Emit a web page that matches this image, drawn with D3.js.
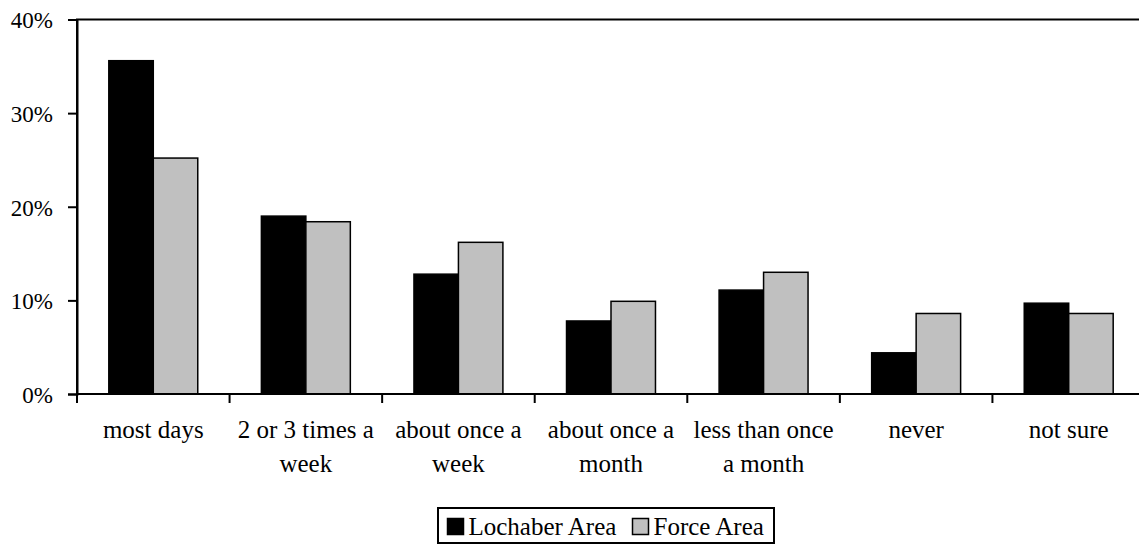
<!DOCTYPE html>
<html>
<head>
<meta charset="utf-8">
<script src="https://cdn.jsdelivr.net/npm/d3@7"></script>
<style>
  html, body { margin: 0; padding: 0; background: #fff; }
  svg { display: block; }
</style>
</head>
<body>
<svg id="chart" width="1139" height="544"></svg>
<script>
const categories = ["most days", "2 or 3 times a week", "about once a week", "about once a month", "less than once a month", "never", "not sure"];
const tickLabelLines = [["most days"], ["2 or 3 times a", "week"], ["about once a", "week"], ["about once a", "month"], ["less than once", "a month"], ["never"], ["not sure"]];
const seriesNames = ["Lochaber Area", "Force Area"];
const lochaber = [35.6, 19.0, 12.8, 7.8, 11.1, 4.4, 9.7];
const force = [25.2, 18.4, 16.2, 9.9, 13.0, 8.6, 8.6];
const yTicks = [0, 10, 20, 30, 40];
const colors = ["#000000", "#c0c0c0"];
const FONT = "Liberation Serif";

const svg = d3.select("#chart");
const plotLeft = 77, plotRight = 1145, plotTop = 19.5, plotBottom = 394;

const xCat = d3.scaleBand().domain(categories).range([plotLeft, plotRight]).padding(0);
const inset = xCat.bandwidth() * 0.2085;
const xSer = d3.scaleBand().domain(seriesNames).range([inset, xCat.bandwidth() - inset]).padding(0);
const y = d3.scaleLinear().domain([0, 40]).range([plotBottom, plotTop]);

const data = categories.map((c, i) => ({ c, vals: [lochaber[i], force[i]] }));

// plot border
svg.append("rect")
  .attr("x", plotLeft).attr("y", plotTop)
  .attr("width", plotRight - plotLeft).attr("height", plotBottom - plotTop)
  .attr("fill", "none").attr("stroke", "#000").attr("stroke-width", 2);

// bars
const g = svg.append("g");
data.forEach(d => {
  d.vals.forEach((v, j) => {
    g.append("rect")
      .attr("x", xCat(d.c) + xSer(seriesNames[j]))
      .attr("y", y(v))
      .attr("width", xSer.bandwidth())
      .attr("height", y(0) - y(v))
      .attr("fill", colors[j])
      .attr("stroke", "#000")
      .attr("stroke-width", 1.5);
  });
});

// y axis
const yAxis = d3.axisLeft(y).tickValues(yTicks).tickSize(9).tickFormat(d => d + "%");
const ya = svg.append("g").attr("transform", `translate(${plotLeft},0)`).call(yAxis)
  .attr("font-family", FONT).attr("font-size", 23);
ya.select(".domain").attr("stroke-width", 2);
ya.selectAll(".tick line").attr("stroke-width", 2);
ya.selectAll(".tick text")
  .attr("x", -24).attr("dy", "0.36em")
  .attr("font-family", FONT).attr("font-size", 23).attr("fill", "#000");

// x axis: line and category boundary ticks
svg.append("line").attr("x1", plotLeft).attr("x2", plotRight).attr("y1", plotBottom).attr("y2", plotBottom)
  .attr("stroke", "#000").attr("stroke-width", 2);
const boundaries = categories.map(c => xCat(c)).concat([xCat(categories[categories.length - 1]) + xCat.bandwidth()]);
svg.selectAll(".xtick").data(boundaries).enter().append("line")
  .attr("x1", d => d).attr("x2", d => d)
  .attr("y1", plotBottom).attr("y2", plotBottom + 9)
  .attr("stroke", "#000").attr("stroke-width", 2);

// x labels
categories.forEach((c, i) => {
  const cx = xCat(c) + xCat.bandwidth() / 2;
  const t = svg.append("text")
    .attr("x", cx)
    .attr("y", 438)
    .attr("text-anchor", "middle")
    .attr("font-family", FONT)
    .attr("font-size", 25);
  tickLabelLines[i].forEach((line, k) => {
    t.append("tspan").attr("x", cx).attr("y", 438 + k * 33.5).text(line);
  });
});

// legend
const lg = svg.append("g");
lg.append("rect").attr("x", 438).attr("y", 508).attr("width", 336).attr("height", 35)
  .attr("fill", "#fff").attr("stroke", "#000").attr("stroke-width", 2);
const legendX = [447.5, 632.5];
seriesNames.forEach((s, j) => {
  lg.append("rect").attr("x", legendX[j]).attr("y", 518.5).attr("width", 16).attr("height", 16)
    .attr("fill", colors[j]).attr("stroke", "#000").attr("stroke-width", 1.5);
  lg.append("text").attr("x", legendX[j] + 21).attr("y", 535)
    .attr("font-family", FONT).attr("font-size", 25).text(s);
});
</script>
</body>
</html>
